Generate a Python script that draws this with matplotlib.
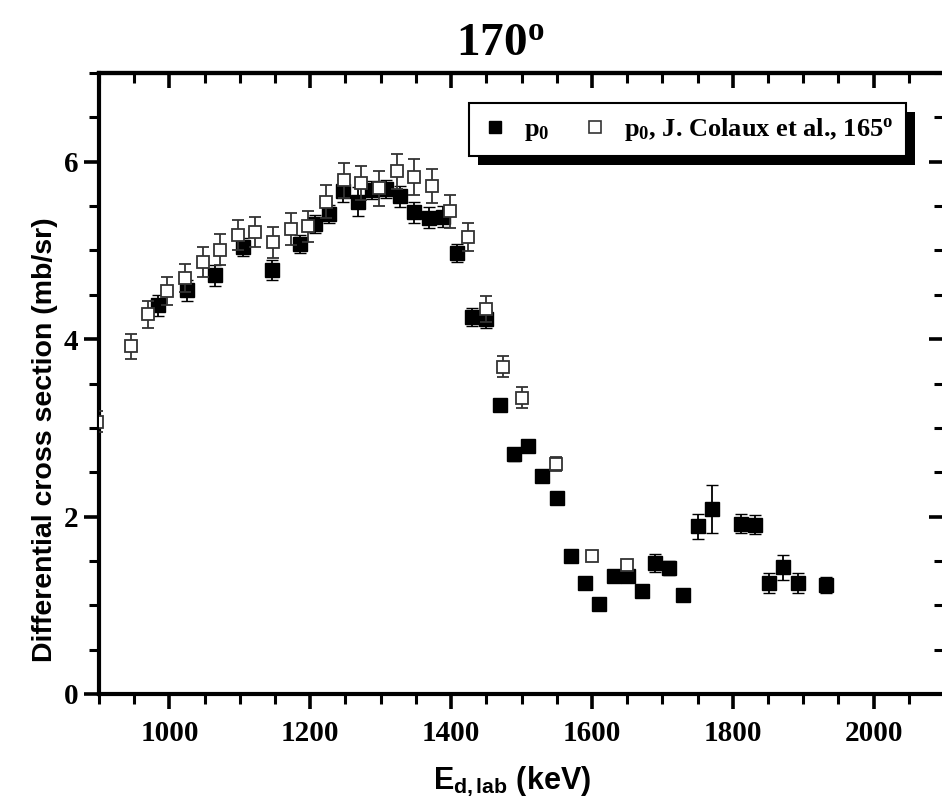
import matplotlib
matplotlib.use("Agg")
import matplotlib.pyplot as plt
from matplotlib.lines import Line2D
from matplotlib.patches import Rectangle
from matplotlib.ticker import MultipleLocator

# ---------------- data ----------------
# p0, this work (filled squares)
e_p0 = [984, 1025, 1065, 1105, 1146, 1186, 1207, 1227, 1247, 1268, 1288, 1308,
        1328, 1348, 1368, 1388, 1408, 1429, 1449, 1469, 1489, 1509, 1529, 1550,
        1570, 1590, 1610, 1631, 1651, 1671, 1690, 1710, 1730, 1750, 1770, 1812,
        1832, 1852, 1872, 1892, 1932]
y_p0 = [4.38, 4.55, 4.72, 5.04, 4.78, 5.07, 5.30, 5.41, 5.67, 5.55, 5.68, 5.69,
        5.61, 5.43, 5.37, 5.38, 4.97, 4.25, 4.23, 3.26, 2.70, 2.80, 2.46, 2.21,
        1.55, 1.25, 1.01, 1.33, 1.33, 1.16, 1.48, 1.42, 1.12, 1.89, 2.09, 1.92,
        1.91, 1.25, 1.43, 1.25, 1.23]
err_p0 = [0.12, 0.12, 0.12, 0.10, 0.11, 0.10, 0.10, 0.10, 0.12, 0.16, 0.10, 0.10,
          0.12, 0.12, 0.12, 0.12, 0.10, 0.10, 0.10, 0.05, 0.07, 0.06, 0.07, 0.05,
          0.03, 0.03, 0.03, 0.03, 0.04, 0.06, 0.10, 0.08, 0.06, 0.14, 0.27, 0.11,
          0.11, 0.11, 0.14, 0.11, 0.09]

# p0, J. Colaux et al., 165 deg (open squares)
e_col = [897, 945, 970, 996, 1022, 1047, 1072, 1097, 1122, 1147, 1172, 1197,
         1222, 1248, 1272, 1297, 1323, 1348, 1373, 1398, 1424, 1449, 1474, 1500,
         1549, 1600, 1650]
y_col = [3.07, 3.92, 4.28, 4.54, 4.69, 4.87, 5.01, 5.17, 5.21, 5.09, 5.24, 5.27,
         5.55, 5.79, 5.76, 5.70, 5.89, 5.83, 5.73, 5.44, 5.15, 4.34, 3.69, 3.34,
         2.59, 1.55, 1.45]
err_col = [0.12, 0.14, 0.15, 0.16, 0.16, 0.17, 0.17, 0.17, 0.17, 0.17, 0.18, 0.18,
           0.19, 0.20, 0.19, 0.20, 0.20, 0.20, 0.19, 0.19, 0.16, 0.15, 0.12, 0.12,
           0.08, 0.03, 0.06]

title_text = "170$^\\mathrm{o}$"
label_p0 = "$\\mathrm{p}_\\mathrm{0}$"
label_col = "$\\mathrm{p}_\\mathrm{0}$, J. Colaux et al., 165$^\\mathrm{o}$"
xlabel_text = "$\\mathsf{E}_{\\mathsf{d,lab}}$ (keV)"
ylabel_text = "Differential cross section (mb/sr)"

# ---------------- style ----------------
plt.rcParams["mathtext.fontset"] = "custom"
plt.rcParams["mathtext.rm"] = "Liberation Serif:bold"
plt.rcParams["mathtext.bf"] = "Liberation Serif:bold"
plt.rcParams["mathtext.it"] = "Liberation Serif:bold:italic"
plt.rcParams["mathtext.sf"] = "Liberation Sans:bold"

W, H = 942, 809
fig = plt.figure(figsize=(W / 100, H / 100), dpi=100)
fig.patch.set_facecolor("white")

ax_l, ax_r, ax_t, ax_b = 99, 944, 73, 694
ax = fig.add_axes([ax_l / W, 1 - ax_b / H, (ax_r - ax_l) / W, (ax_b - ax_t) / H])
ax.patch.set_visible(False)

ax.errorbar(e_p0, y_p0, yerr=err_p0, fmt="s", ms=10, mfc="black", mec="black",
            mew=1.0, ecolor="black", elinewidth=1.3, capsize=4.5, capthick=1.3,
            zorder=3)
ax.errorbar(e_col, y_col, yerr=err_col, fmt="s", ms=8.5, mfc="white", mec="#333333",
            mew=1.3, ecolor="#333333", elinewidth=1.3, capsize=4.5, capthick=1.3,
            zorder=4)

ax.set_xlim(900, 2100)
ax.set_ylim(0, 7)

ax.xaxis.set_major_locator(MultipleLocator(200))
ax.xaxis.set_minor_locator(MultipleLocator(50))
ax.yaxis.set_major_locator(MultipleLocator(2))
ax.yaxis.set_minor_locator(MultipleLocator(0.5))

for sp in ax.spines.values():
    sp.set_linewidth(3.0)

ax.tick_params(which="both", bottom=True, left=True, top=False, right=False,
               direction="out")
ax.tick_params(which="major", length=11, width=2.6)
ax.tick_params(axis="x", which="major", pad=8)
ax.tick_params(axis="y", which="major", pad=4)
ax.tick_params(which="minor", length=7, width=2.2)

# inward ticks on top / right using secondary axes
axt = ax.secondary_xaxis("top")
axt.xaxis.set_major_locator(MultipleLocator(200))
axt.xaxis.set_minor_locator(MultipleLocator(50))
axt.tick_params(which="both", direction="in", labeltop=False)
axt.tick_params(which="major", length=11, width=2.6)
axt.tick_params(which="minor", length=7, width=2.2)
axt.spines["top"].set_linewidth(3.0)
axr = ax.secondary_yaxis("right")
axr.yaxis.set_major_locator(MultipleLocator(2))
axr.yaxis.set_minor_locator(MultipleLocator(0.5))
axr.tick_params(which="both", direction="in", labelright=False)
axr.tick_params(which="major", length=11, width=2.6)
axr.tick_params(which="minor", length=7, width=2.2)
axr.spines["right"].set_linewidth(3.0)

for lab in ax.get_xticklabels() + ax.get_yticklabels():
    lab.set_fontfamily("Liberation Serif")
    lab.set_fontweight("bold")
    lab.set_fontsize(21)

# labels
fig.text(500 / W, 1 - 55 / H, title_text, ha="center", va="baseline",
         fontsize=34, fontfamily="Liberation Serif", fontweight="bold")
fig.text(512 / W, 1 - 781 / H, xlabel_text, ha="center", va="center",
         fontsize=22, fontfamily="Liberation Sans", fontweight="bold")
fig.text(45 / W, 1 - 440 / H, ylabel_text, ha="center", va="center", rotation=90,
         fontsize=20.5, fontfamily="Liberation Sans", fontweight="bold")

# legend
h1 = Line2D([], [], ls="none", marker="s", ms=9, mfc="black", mec="black")
h2 = Line2D([], [], ls="none", marker="s", ms=8, mfc="white", mec="#333333", mew=1.2)
leg = ax.legend([h1, h2], [label_p0, label_col], ncol=2, loc="upper right",
                bbox_to_anchor=((906 - ax_l) / (ax_r - ax_l), (ax_b - 103) / (ax_b - ax_t)),
                borderaxespad=0, fancybox=False, frameon=True, handlelength=1.0,
                handletextpad=0.6, columnspacing=1.2, borderpad=0.5,
                prop={"family": "Liberation Serif", "weight": "bold", "size": 19})
leg.get_frame().set_edgecolor("black")
leg.get_frame().set_linewidth(1.5)
leg.get_frame().set_alpha(1)
leg.set_zorder(10)

fig.canvas.draw()
bb = leg.get_window_extent()
inv = ax.transAxes.inverted()
(x0, y0), (x1, y1) = inv.transform([(bb.x0 + 9, bb.y0 - 9), (bb.x1 + 9, bb.y1 - 9)])
ax.add_patch(Rectangle((x0, y0), x1 - x0, y1 - y0, transform=ax.transAxes,
                       facecolor="black", edgecolor="none", zorder=9, clip_on=False))

fig.savefig("out.png", dpi=100, facecolor="white")
